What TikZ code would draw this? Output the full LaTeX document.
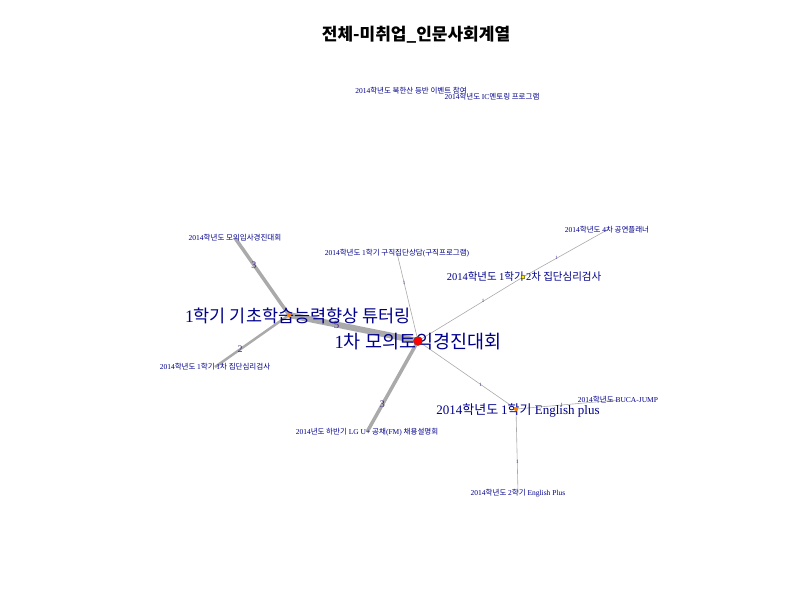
\documentclass[tikz,border=0pt]{standalone}
\usepackage{fontspec}
\setmainfont{Liberation Serif}
\newfontfamily\kr{Noto Sans CJK KR}
\usetikzlibrary{backgrounds}

\definecolor{navy}{RGB}{0,0,139}
\definecolor{edgegray}{RGB}{170,170,170}
\definecolor{wlabel}{RGB}{70,40,140}

\tikzset{
  lbl/.style={text=navy, inner sep=0pt},
  big/.style={lbl, font=\fontsize{18.5}{20}\selectfont},
  mid/.style={lbl, font=\fontsize{13}{15}\selectfont},
  small/.style={lbl, font=\fontsize{7.5}{8}\selectfont},
  vtx/.style={circle, inner sep=0pt, minimum size=#1},
  wt/.style={text=wlabel, inner sep=0pt, font=\fontsize{#1}{#1}\selectfont},
}

\begin{document}
\begin{tikzpicture}[x=1pt, y=-1pt]
            \useasboundingbox (0,0) rectangle (800,600);
            \node (title) at (416,35) [font=\fontsize{17}{19}\selectfont\kr\bfseries] {전체-미취업\_인문사회계열};

            % vertices
            \node (ctr)   at (418,342) [big]   {1{\kr 차 모의토익경진대회}};
            \node (tut)   at (298,316) [mid, font=\fontsize{17.5}{19}\selectfont] {1{\kr 학기 기초학습능력향상 튜터링}};
            \node (psy2)  at (524,277) [lbl, font=\fontsize{10.5}{12}\selectfont] {2014{\kr 학년도 }1{\kr 학기 }2{\kr 차 집단심리검사}};
            \node (eng)   at (518,410) [mid]   {2014{\kr 학년도 }1{\kr 학기} English plus};
            \node (mock)  at (235,238) [small] {2014{\kr 학년도 모의입사경진대회}};
            \node (psy1)  at (215,367) [small] {2014{\kr 학년도 }1{\kr 학기 }1{\kr 차 집단심리검사}};
            \node (lgu)   at (367,432) [small] {2014{\kr 년도 하반기} LG U+ {\kr 공채}(FM) {\kr 채용설명회}};
            \node (job)   at (397,253) [small] {2014{\kr 학년도 }1{\kr 학기 구직집단상담}({\kr 구직프로그램})};
            \node (perf)  at (607,230) [small] {2014{\kr 학년도 }4{\kr 차 공연플래너}};
            \node (eng2)  at (518,493) [small] {2014{\kr 학년도 }2{\kr 학기} English Plus};
            \node (buca)  at (618,400) [small] {2014{\kr 학년도} BUCA-JUMP};
            \node (north) at (411,91)  [small] {2014{\kr 학년도 북한산 등반 이벤트 참여}};
            \node (ic)    at (492,97)  [small] {2014{\kr 학년도 }IC{\kr 멘토링 프로그램}};

            % vertex dots
            \node (ctrdot)  at (418,341) [vtx=9pt, fill=red, draw=black!70, line width=0.4pt] {};
            \node (tutdot)  at (289,315) [vtx=4pt, fill=orange] {};
            \node (psy2dot) at (523,277) [vtx=4pt, fill=yellow, draw=black, line width=0.3pt] {};
            \node (engdot)  at (516,409) [vtx=4pt, fill=orange] {};

            \begin{pgfonlayer}{background}
            \begin{scope}[draw=edgegray]
                \draw [line width=6pt] (ctrdot.center) -- (tutdot.center) node [pos=0.63, wt=11] {5};
                \draw [line width=3.5pt] (tutdot.center) -- (mock.center) node [pos=0.65, wt=10] {3};
                \draw [line width=2.5pt] (tutdot.center) -- (psy1.center) node [pos=0.66, wt=10] {2};
                \draw [line width=3.5pt] (ctrdot.center) -- (lgu.center) node [pos=0.7, wt=10] {3};
                \draw [line width=0.6pt] (ctrdot.center) -- (job.center) node [pos=0.66, wt=5] {1};
                \draw [line width=0.6pt] (ctrdot.center) -- (psy2dot.center) node [pos=0.62, wt=5] {1};
                \draw [line width=0.6pt] (psy2dot.center) -- (perf.center) node [pos=0.4, wt=5] {1};
                \draw [line width=0.6pt] (ctrdot.center) -- (engdot.center) node [pos=0.64, wt=5] {1};
                \draw [line width=0.6pt] (engdot.center) -- (buca.center) node [pos=0.45, wt=5] {1};
                \draw [line width=0.6pt] (engdot.center) -- (eng2.center) node [pos=0.63, wt=5] {1};
            \end{scope}
            \end{pgfonlayer}
        \end{tikzpicture}
\end{document}
